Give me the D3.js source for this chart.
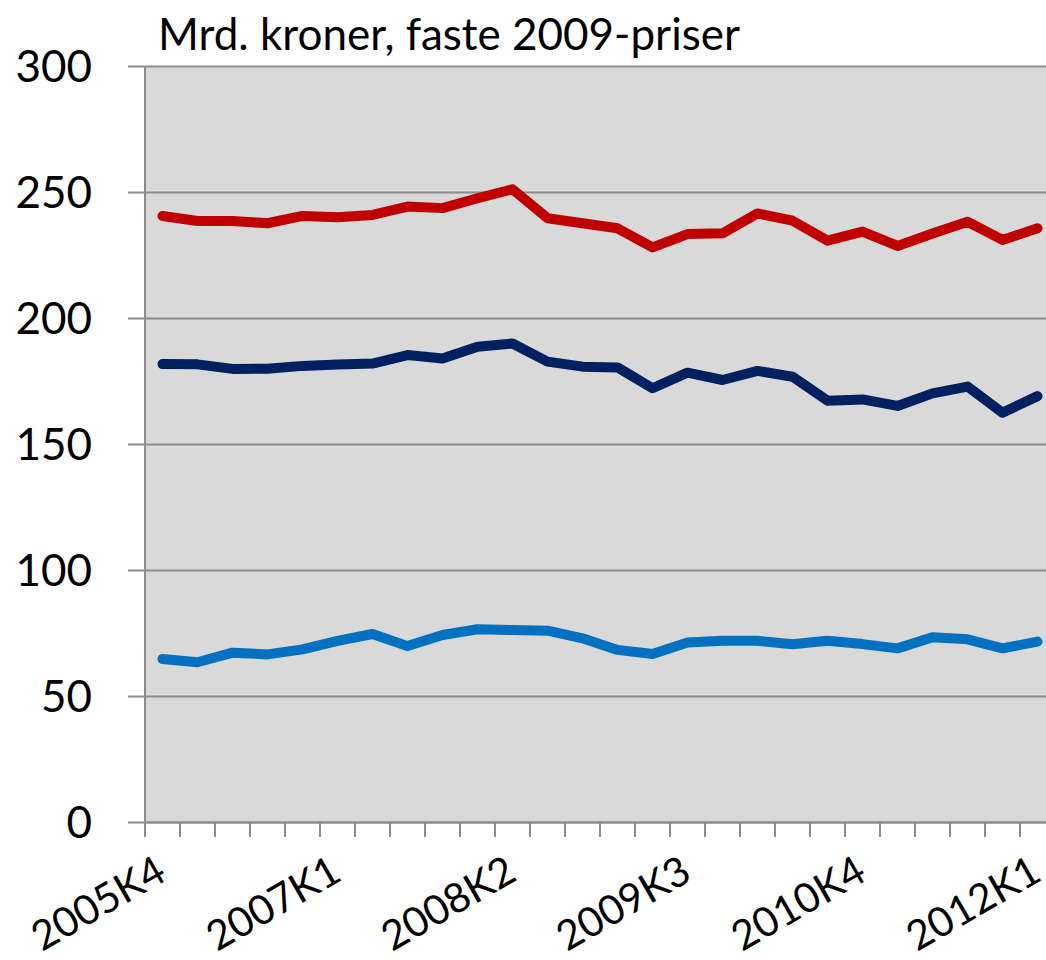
<!DOCTYPE html>
<html>
<head>
<meta charset="utf-8">
<script src="https://cdn.jsdelivr.net/npm/d3@7"></script>
<style>
  body { margin: 0; background: #fff; }
  svg text { font-family: Lato, "Open Sans", sans-serif; fill: #000; }
</style>
</head>
<body>
<svg id="chart" width="1046" height="960"></svg>
<script>
// kvartaler 2005K4 - 2012K1
var quarters = ["2005K4",
  "2006K1","2006K2","2006K3","2006K4",
  "2007K1","2007K2","2007K3","2007K4",
  "2008K1","2008K2","2008K3","2008K4",
  "2009K1","2009K2","2009K3","2009K4",
  "2010K1","2010K2","2010K3","2010K4",
  "2011K1","2011K2","2011K3","2011K4",
  "2012K1"];
var shownLabels = ["2005K4","2007K1","2008K2","2009K3","2010K4","2012K1"];

var redSeries = [240.5, 238.5, 238.5, 237.6, 240.5, 240.0, 240.9, 244.2, 243.6, 247.5,
  251.1, 239.6, 237.6, 235.6, 228.0, 233.3, 233.6, 241.5, 238.6, 230.7,
  234.3, 228.6, 233.5, 238.2, 231.0, 235.6];
var navySeries = [181.7, 181.6, 179.8, 179.9, 181.0, 181.5, 181.9, 185.3, 183.9, 188.6,
  189.9, 182.7, 180.7, 180.4, 172.1, 178.3, 175.4, 179.0, 176.7, 167.2,
  167.7, 165.1, 170.1, 172.8, 162.4, 169.0];
var blueSeries = [64.7, 63.4, 67.2, 66.5, 68.5, 71.9, 74.6, 69.8, 74.2, 76.5,
  76.2, 75.9, 72.9, 68.3, 66.7, 71.2, 71.9, 71.9, 70.5, 71.9,
  70.6, 68.9, 73.3, 72.5, 68.9, 71.6];
var yTicks = [0, 50, 100, 150, 200, 250, 300];

var svg = d3.select("#chart");
var plotLeft = 145, plotTop = 66, plotBottom = 822, band = 35;
var plotRight = plotLeft + band * quarters.length;   // plottet går litt ut over kanten

var x = d3.scaleBand().domain(quarters).range([plotLeft, plotRight]).padding(0);
var y = d3.scaleLinear().domain([0, 300]).range([plotBottom, plotTop]);

// bakgrunn
svg.append("rect")
  .attr("x", plotLeft).attr("y", plotTop)
  .attr("width", plotRight - plotLeft).attr("height", plotBottom - plotTop)
  .attr("fill", "#d9d9d9");

// y-akse med rutenett
var yAxis = svg.append("g")
  .attr("transform", "translate(" + plotLeft + ",0)")
  .call(d3.axisLeft(y).tickValues(yTicks).tickSize(-(plotRight - plotLeft)).tickSizeOuter(0).tickPadding(0));
yAxis.select(".domain").remove();
yAxis.selectAll(".tick line")
  .attr("x1", -17)
  .attr("stroke", "#8c8c8c").attr("stroke-width", 2);
yAxis.selectAll(".tick text")
  .attr("x", -53)
  .attr("dy", "0.36em")
  .attr("font-size", 44)
  .style("font-family", "Lato, 'Open Sans', sans-serif");

// vertikal akselinje
svg.append("line")
  .attr("x1", plotLeft).attr("x2", plotLeft)
  .attr("y1", plotTop).attr("y2", plotBottom)
  .attr("stroke", "#8c8c8c").attr("stroke-width", 2);

// x-akse
var xAxis = svg.append("g")
  .attr("transform", "translate(0," + plotBottom + ")")
  .call(d3.axisBottom(x).tickSize(0).tickFormat(""));
xAxis.select(".domain").attr("stroke", "#8c8c8c").attr("stroke-width", 2);

var boundaries = quarters.map(function(q){ return x(q); });
xAxis.selectAll("line.qtick")
  .data(boundaries)
  .enter().append("line")
  .attr("class", "qtick")
  .attr("x1", function(d){ return d; }).attr("x2", function(d){ return d; })
  .attr("y1", 0).attr("y2", 15)
  .attr("stroke", "#8c8c8c").attr("stroke-width", 2);

svg.append("g").selectAll("text")
  .data(shownLabels)
  .enter().append("text")
  .attr("transform", function(d){
    return "translate(" + (x(d) + x.bandwidth() / 2 + 6) + ",879) rotate(-30)";
  })
  .attr("text-anchor", "end")
  .attr("font-size", 41)
  .text(function(d){ return d; });

// linjer
var line = d3.line()
  .x(function(d, i){ return x(quarters[i]) + x.bandwidth() / 2; })
  .y(function(d){ return y(d); });

var series = [
  { values: redSeries, color: "#c00000" },
  { values: navySeries, color: "#002060" },
  { values: blueSeries, color: "#0070c0" }
];
svg.append("g").selectAll("path")
  .data(series)
  .enter().append("path")
  .attr("d", function(s){ return line(s.values); })
  .attr("fill", "none")
  .attr("stroke", function(s){ return s.color; })
  .attr("stroke-width", 10)
  .attr("stroke-linejoin", "round")
  .attr("stroke-linecap", "round");

// tittel
var title = svg.append("text")
  .attr("x", 158).attr("y", 50)
  .attr("font-size", 44)
  .text("Mrd. kroner, faste 2009-priser");
var w = title.node().getComputedTextLength();
title.attr("font-size", 44 * 582 / w);
</script>
</body>
</html>
